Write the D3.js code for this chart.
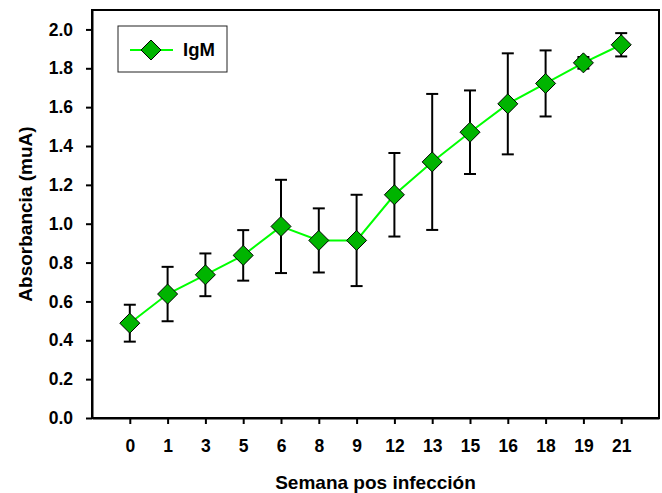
<!DOCTYPE html>
<html>
<head>
<meta charset="utf-8">
<script src="https://cdn.jsdelivr.net/npm/d3@7"></script>
<style>
  html, body { margin: 0; padding: 0; background: #fff; }
  svg text { font-family: "Liberation Sans", Arial, sans-serif; font-weight: bold; fill: #000; }
</style>
</head>
<body>
<svg id="chart" width="662" height="493"></svg>
<script>
// Weeks after infection (categorical x axis)
const weeks = ["0", "1", "3", "5", "6", "8", "9", "12", "13", "15", "16", "18", "19", "21"];
// Mean IgM absorbance per week
const igmMean = [0.488, 0.638, 0.737, 0.837, 0.986, 0.914, 0.914, 1.149, 1.318, 1.471, 1.617, 1.722, 1.828, 1.921];
// Standard deviation per week
const igmError = [0.095, 0.14, 0.11, 0.13, 0.24, 0.165, 0.235, 0.215, 0.35, 0.215, 0.26, 0.17, 0.03, 0.06];
// Y tick values
const yTicks = [0.0, 0.2, 0.4, 0.6, 0.8, 1.0, 1.2, 1.4, 1.6, 1.8, 2.0];
const seriesName = "IgM";

const svg = d3.select("#chart");
const plot = { left: 92, right: 659, top: 10, bottom: 418 };

const x = d3.scalePoint()
  .domain(weeks)
  .range([plot.left, plot.right])
  .padding(1);

const y = d3.scaleLinear()
  .domain([0, 2.1])
  .range([plot.bottom, plot.top]);

// Frame around the plotting area
svg.append("rect")
  .attr("x", plot.left).attr("y", plot.top)
  .attr("width", plot.right - plot.left)
  .attr("height", plot.bottom - plot.top)
  .attr("fill", "none")
  .attr("stroke", "#000")
  .attr("stroke-width", 2);

// Y axis
const yAxis = svg.append("g")
  .attr("transform", `translate(${plot.left},0)`)
  .call(d3.axisLeft(y).tickValues(yTicks).tickFormat(d3.format(".1f"))
    .tickSize(6).tickSizeOuter(0).tickPadding(13));
yAxis.select(".domain").attr("stroke-width", 2);
yAxis.selectAll(".tick line").attr("stroke-width", 2);
yAxis.selectAll(".tick text").style("font-size", "17.5px");

// X axis
const xAxis = svg.append("g")
  .attr("transform", `translate(0,${plot.bottom})`)
  .call(d3.axisBottom(x).tickSize(6).tickSizeOuter(0).tickPadding(16));
xAxis.select(".domain").attr("stroke-width", 2);
xAxis.selectAll(".tick line").attr("stroke-width", 2);
xAxis.selectAll(".tick text").style("font-size", "17.5px");

// Axis titles
svg.append("text")
  .attr("x", (plot.left + plot.right) / 2)
  .attr("y", 489)
  .attr("text-anchor", "middle")
  .style("font-size", "19px")
  .text("Semana pos infección");

svg.append("text")
  .attr("transform", `translate(32,${(plot.top + plot.bottom) / 2}) rotate(-90)`)
  .attr("text-anchor", "middle")
  .style("font-size", "19px")
  .text("Absorbancia (muA)");

const data = weeks.map((w, i) => ({ week: w, mean: igmMean[i], err: igmError[i] }));

// Connecting line
const line = d3.line().x(d => x(d.week)).y(d => y(d.mean));
svg.append("path")
  .datum(data)
  .attr("d", line)
  .attr("fill", "none")
  .attr("stroke", "#00ff00")
  .attr("stroke-width", 2);

// Error bars with caps
const capHalf = 6;
const eb = svg.append("g").attr("stroke", "#000").attr("stroke-width", 2);
data.forEach(d => {
  const cx = x(d.week);
  const yTop = y(d.mean + d.err), yBot = y(d.mean - d.err);
  eb.append("line").attr("x1", cx).attr("x2", cx).attr("y1", yTop).attr("y2", yBot);
  eb.append("line").attr("x1", cx - capHalf).attr("x2", cx + capHalf).attr("y1", yTop).attr("y2", yTop);
  eb.append("line").attr("x1", cx - capHalf).attr("x2", cx + capHalf).attr("y1", yBot).attr("y2", yBot);
});

// Diamond markers
const diamond = r => `M0,${-r}L${r},0L0,${r}L${-r},0Z`;
svg.append("g").selectAll("path")
  .data(data)
  .join("path")
  .attr("transform", d => `translate(${x(d.week)},${y(d.mean)})`)
  .attr("d", diamond(10))
  .attr("fill", "#00b400")
  .attr("stroke", "#000")
  .attr("stroke-width", 1);

// Legend
const lg = svg.append("g");
lg.append("rect")
  .attr("x", 118).attr("y", 26).attr("width", 109).attr("height", 46)
  .attr("fill", "#fff").attr("stroke", "#222").attr("stroke-width", 1);
lg.append("line")
  .attr("x1", 130).attr("x2", 173).attr("y1", 50).attr("y2", 50)
  .attr("stroke", "#00ff00").attr("stroke-width", 2);
lg.append("path")
  .attr("transform", "translate(151,50)")
  .attr("d", diamond(10))
  .attr("fill", "#00b400").attr("stroke", "#000").attr("stroke-width", 1);
lg.append("text")
  .attr("x", 183).attr("y", 56)
  .style("font-size", "18.5px")
  .text(seriesName);
</script>
</body>
</html>
